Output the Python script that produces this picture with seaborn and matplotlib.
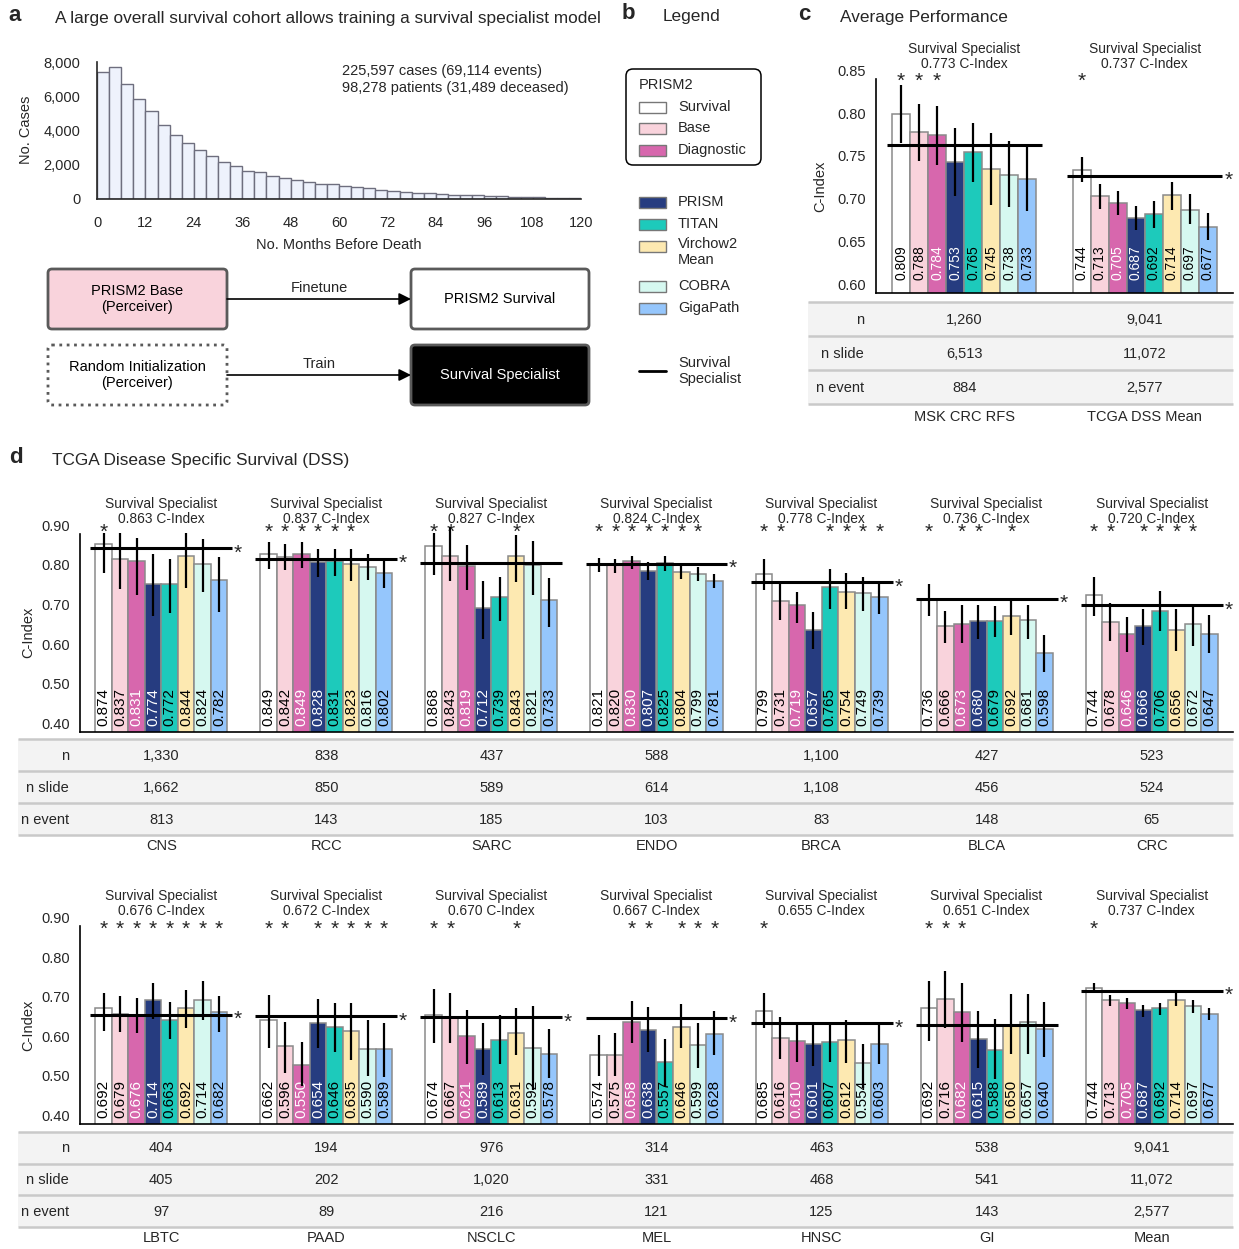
import numpy as np
import pandas as pd
import matplotlib.pyplot as plt
import matplotlib.transforms as mtransforms
from matplotlib.patches import FancyBboxPatch, Rectangle
import seaborn as sns

sns.set_style("white")
plt.rcParams['font.family'] = ['Liberation Sans', 'DejaVu Sans']
plt.rcParams['axes.linewidth'] = 1.2

W, H = 1239, 1249
FS = 10.5

# ---------------- data ----------------
models = ['PRISM2 Survival', 'PRISM2 Base', 'PRISM2 Diagnostic', 'PRISM',
          'TITAN', 'Virchow2 Mean', 'COBRA', 'GigaPath']
legend_labels = ['Survival', 'Base', 'Diagnostic', 'PRISM', 'TITAN',
                 'Virchow2\nMean', 'COBRA', 'GigaPath']
colors = ['#FFFFFF', '#F9D3DC', '#D767AD', '#263C80', '#1DCABB', '#FDE9B1',
          '#D6F8F0', '#95C6FC']
text_colors = ['black', 'black', 'white', 'white', 'black', 'black', 'black', 'black']

# panel a: cases per 3-month bin before death
month_bins = list(range(0, 120, 3))
hist_counts = [7400, 7690, 6740, 5820, 5160, 4320, 3720, 3290, 2840, 2490,
               2140, 1930, 1660, 1580, 1360, 1250, 1130, 970, 860, 860,
               760, 700, 660, 510, 470, 430, 370, 370, 290, 250,
               210, 210, 190, 160, 140, 120, 100, 80, 60, 40]

# panel c: average performance
avg_cohorts = ['MSK CRC RFS', 'TCGA DSS Mean']
avg_cindex = [[0.809, 0.788, 0.784, 0.753, 0.765, 0.745, 0.738, 0.733],
              [0.744, 0.713, 0.705, 0.687, 0.692, 0.714, 0.697, 0.677]]
avg_lo = [[0.775, 0.754, 0.749, 0.713, 0.730, 0.703, 0.700, 0.696],
          [0.730, 0.698, 0.691, 0.673, 0.676, 0.697, 0.680, 0.662]]
avg_hi = [[0.843, 0.821, 0.818, 0.793, 0.799, 0.787, 0.777, 0.771],
          [0.759, 0.727, 0.719, 0.702, 0.707, 0.730, 0.715, 0.693]]
avg_specialist = [0.773, 0.737]
avg_stars = [[0, 1, 2], [0]]
avg_end_star = [False, True]
avg_n = ['1,260', '9,041']
avg_n_slide = ['6,513', '11,072']
avg_n_event = ['884', '2,577']

# panel d, first row
row1_cohorts = ['CNS', 'RCC', 'SARC', 'ENDO', 'BRCA', 'BLCA', 'CRC']
row1_cindex = [[0.874, 0.837, 0.831, 0.774, 0.772, 0.844, 0.824, 0.782],
               [0.849, 0.842, 0.849, 0.828, 0.831, 0.823, 0.816, 0.802],
               [0.868, 0.843, 0.819, 0.712, 0.739, 0.843, 0.821, 0.733],
               [0.821, 0.820, 0.830, 0.807, 0.825, 0.804, 0.799, 0.781],
               [0.799, 0.731, 0.719, 0.657, 0.765, 0.754, 0.749, 0.739],
               [0.736, 0.666, 0.673, 0.680, 0.679, 0.692, 0.681, 0.598],
               [0.744, 0.678, 0.646, 0.666, 0.706, 0.656, 0.672, 0.647]]
row1_lo = [[0.800, 0.760, 0.745, 0.693, 0.700, 0.764, 0.753, 0.703],
           [0.811, 0.808, 0.814, 0.790, 0.793, 0.781, 0.782, 0.764],
           [0.795, 0.781, 0.759, 0.634, 0.680, 0.777, 0.745, 0.665],
           [0.804, 0.802, 0.812, 0.783, 0.806, 0.785, 0.781, 0.762],
           [0.759, 0.682, 0.675, 0.610, 0.709, 0.711, 0.705, 0.697],
           [0.692, 0.625, 0.624, 0.634, 0.639, 0.644, 0.634, 0.551],
           [0.692, 0.628, 0.602, 0.618, 0.655, 0.603, 0.616, 0.600]]
row1_hi = [[0.901, 0.901, 0.890, 0.849, 0.836, 0.901, 0.887, 0.842],
           [0.880, 0.874, 0.878, 0.861, 0.861, 0.862, 0.849, 0.833],
           [0.901, 0.918, 0.871, 0.781, 0.791, 0.897, 0.881, 0.787],
           [0.838, 0.835, 0.844, 0.829, 0.844, 0.821, 0.817, 0.797],
           [0.836, 0.776, 0.753, 0.703, 0.812, 0.800, 0.791, 0.776],
           [0.774, 0.704, 0.720, 0.720, 0.717, 0.734, 0.721, 0.644],
           [0.790, 0.725, 0.690, 0.709, 0.755, 0.709, 0.718, 0.694]]
row1_specialist = [0.863, 0.837, 0.827, 0.824, 0.778, 0.736, 0.720]
row1_stars = [[0], [0, 1, 2, 3, 4, 5], [0, 1, 5], [0, 1, 2, 3, 4, 5, 6],
              [0, 1, 4, 5, 6, 7], [0, 2, 3, 5], [0, 1, 3, 4, 5, 6]]
row1_end_star = [True, True, False, True, True, True, True]
row1_n = ['1,330', '838', '437', '588', '1,100', '427', '523']
row1_n_slide = ['1,662', '850', '589', '614', '1,108', '456', '524']
row1_n_event = ['813', '143', '185', '103', '83', '148', '65']

# panel d, second row
row2_cohorts = ['LBTC', 'PAAD', 'NSCLC', 'MEL', 'HNSC', 'GI', 'Mean']
row2_cindex = [[0.692, 0.679, 0.676, 0.714, 0.663, 0.692, 0.714, 0.682],
               [0.662, 0.596, 0.550, 0.654, 0.646, 0.635, 0.590, 0.589],
               [0.674, 0.667, 0.621, 0.589, 0.613, 0.631, 0.592, 0.578],
               [0.574, 0.575, 0.658, 0.638, 0.557, 0.646, 0.599, 0.628],
               [0.685, 0.616, 0.610, 0.601, 0.607, 0.612, 0.554, 0.603],
               [0.692, 0.716, 0.682, 0.615, 0.588, 0.650, 0.657, 0.640],
               [0.744, 0.713, 0.705, 0.687, 0.692, 0.714, 0.697, 0.677]]
row2_lo = [[0.635, 0.633, 0.631, 0.664, 0.614, 0.642, 0.663, 0.633],
           [0.591, 0.530, 0.496, 0.591, 0.581, 0.562, 0.520, 0.518],
           [0.604, 0.605, 0.552, 0.524, 0.551, 0.573, 0.486, 0.515],
           [0.520, 0.520, 0.604, 0.583, 0.494, 0.591, 0.541, 0.574],
           [0.642, 0.564, 0.557, 0.547, 0.557, 0.553, 0.490, 0.551],
           [0.610, 0.643, 0.608, 0.542, 0.514, 0.577, 0.578, 0.570],
           [0.730, 0.699, 0.690, 0.671, 0.675, 0.698, 0.681, 0.663]]
row2_hi = [[0.730, 0.722, 0.717, 0.755, 0.707, 0.738, 0.761, 0.724],
           [0.727, 0.657, 0.606, 0.716, 0.706, 0.705, 0.663, 0.654],
           [0.741, 0.732, 0.688, 0.656, 0.675, 0.692, 0.699, 0.640],
           [0.625, 0.631, 0.711, 0.696, 0.614, 0.703, 0.656, 0.685],
           [0.730, 0.671, 0.658, 0.652, 0.654, 0.663, 0.602, 0.654],
           [0.761, 0.787, 0.755, 0.686, 0.664, 0.728, 0.728, 0.709],
           [0.757, 0.726, 0.717, 0.701, 0.706, 0.730, 0.713, 0.692]]
row2_specialist = [0.676, 0.672, 0.670, 0.667, 0.655, 0.651, 0.737]
row2_stars = [[0, 1, 2, 3, 4, 5, 6, 7], [0, 1, 3, 4, 5, 6, 7], [0, 1, 5],
              [2, 3, 5, 6, 7], [0], [0, 1, 2], [0]]
row2_end_star = [True, True, True, True, True, False, True]
row2_n = ['404', '194', '976', '314', '463', '538', '9,041']
row2_n_slide = ['405', '202', '1,020', '331', '468', '541', '11,072']
row2_n_event = ['97', '89', '216', '121', '125', '143', '2,577']

table_rows = ['n', 'n slide', 'n event']

# ---------------- figure ----------------
fig = plt.figure(figsize=(W / 100, H / 100), dpi=100)


def px_axes(x0, y0, x1, y1):
    return fig.add_axes([x0 / W, 1 - y1 / H, (x1 - x0) / W, (y1 - y0) / H])


ov = fig.add_axes([0, 0, 1, 1])
ov.set_xlim(0, W)
ov.set_ylim(H, 0)
ov.axis('off')
ov.patch.set_alpha(0)

# panel headers
for letter, lx, ly, title, tx in [('a', 15, 15, 'A large overall survival cohort allows training a survival specialist model', 55),
                                  ('b', 628, 13, 'Legend', 663),
                                  ('c', 804, 14, 'Average Performance', 840),
                                  ('d', 16, 457, 'TCGA Disease Specific Survival (DSS)', 52)]:
    ov.text(lx, ly, letter, fontsize=16, fontweight='bold', ha='center', va='center')
    ov.text(tx, ly + 3, title, fontsize=12.4, ha='left', va='center')

# ---- panel a: histogram ----
ax_h = px_axes(97, 62, 581, 199)
ax_h.patch.set_alpha(0)
hist_df = pd.DataFrame({'month': [b + 1.5 for b in month_bins], 'cases': hist_counts})
sns.histplot(data=hist_df, x='month', weights='cases', binwidth=3, binrange=(0, 120),
             color='#EEF2FC', edgecolor='#6E6E7E', linewidth=1, alpha=1, ax=ax_h)
ax_h.set_xlim(0, 120)
ax_h.set_ylim(0, 8000)
ax_h.set_xticks(range(0, 121, 12))
ax_h.set_yticks(range(0, 8001, 2000))
ax_h.set_yticklabels([f'{v:,}' for v in range(0, 8001, 2000)])
ax_h.tick_params(axis='both', length=4, width=1.2, labelsize=FS, direction='out')
ax_h.tick_params(axis='y', pad=8)
ax_h.tick_params(axis='x', pad=8)
ax_h.set_xlabel('')
ax_h.set_ylabel('')
sns.despine(ax=ax_h)
ov.text(26, 130, 'No. Cases', rotation=90, fontsize=FS, ha='center', va='center')
ov.text(339, 245, 'No. Months Before Death', fontsize=FS, ha='center', va='center')
ov.text(342, 71, '225,597 cases (69,114 events)', fontsize=FS, ha='left', va='center')
ov.text(342, 88, '98,278 patients (31,489 deceased)', fontsize=FS, ha='left', va='center')

# flow diagram
for (x0, y0, x1, y1, fc, ec, ls, label, tc) in [
        (48, 269, 227, 329, '#F9D3DC', '#5A5A5A', '-', 'PRISM2 Base\n(Perceiver)', 'black'),
        (411, 269, 589, 329, 'white', '#5A5A5A', '-', 'PRISM2 Survival', 'black'),
        (48, 345, 227, 405, 'white', '#5A5A5A', ':', 'Random Initialization\n(Perceiver)', 'black'),
        (411, 345, 589, 405, 'black', '#5A5A5A', '-', 'Survival Specialist', 'white')]:
    ov.add_patch(FancyBboxPatch((x0, y0), x1 - x0, y1 - y0, boxstyle='round,pad=0,rounding_size=4',
                                facecolor=fc, edgecolor=ec, linewidth=2, linestyle=ls))
    ov.text((x0 + x1) / 2, (y0 + y1) / 2, label, color=tc, fontsize=FS, ha='center', va='center',
            linespacing=1.15)
for y, label in [(299, 'Finetune'), (375, 'Train')]:
    ov.annotate('', xy=(411, y), xytext=(227, y),
                arrowprops=dict(arrowstyle='-|>', color='black', lw=1.2, mutation_scale=18,
                                shrinkA=0, shrinkB=0))
    ov.text(319, y - 11, label, fontsize=FS, ha='center', va='center')

# ---- panel b: legend ----
ov.add_patch(FancyBboxPatch((626, 69), 135, 96, boxstyle='round,pad=0,rounding_size=7',
                            facecolor='none', edgecolor='black', linewidth=1.1))
ov.text(639, 85, 'PRISM2', fontsize=FS, ha='left', va='center')
legend_y = [107, 128, 150, 202, 224, 246, 286, 308]
for m in range(len(models)):
    y = legend_y[m]
    ov.add_patch(Rectangle((639, y - 5.5), 27, 11, facecolor=colors[m], edgecolor='#777777', lw=1))
    if '\n' in legend_labels[m]:
        ov.text(678, y - 9, legend_labels[m], fontsize=FS, ha='left', va='top', linespacing=1.15)
    else:
        ov.text(678, y, legend_labels[m], fontsize=FS, ha='left', va='center')
ov.plot([639, 666], [371, 371], color='black', lw=2)
ov.text(678, 371, 'Survival\nSpecialist', fontsize=FS, ha='left', va='center', linespacing=1.15)


# ---- bar panels ----
def bar_panel(ax, cohorts, cindex, lo, hi, spec, stars, end_star, ylims, yticks,
              value_size, value_pad, top_px, star_px):
    order, rows = [], []
    for g, name in enumerate(cohorts):
        for m, model in enumerate(models):
            order.append(f'{name}:{m}')
            rows.append((f'{name}:{m}', model, cindex[g][m]))
        if g < len(cohorts) - 1:
            order += [f'{name}:gap0', f'{name}:gap1']
    df = pd.DataFrame(rows, columns=['slot', 'model', 'cindex'])
    sns.barplot(data=df, x='slot', y='cindex', hue='model', order=order, hue_order=models,
                palette=colors, saturation=1, dodge=False, width=1, errorbar=None,
                edgecolor='#8A8A8A', linewidth=1.1, legend=False, ax=ax)
    ax.patch.set_alpha(0)
    ax.set_ylim(*ylims)
    ax.set_xlim(-0.5 - 0.93, 10 * (len(cohorts) - 1) + 7.5 + 0.93)
    ax.set_xticks([])
    ax.set_xlabel('')
    ax.set_ylabel('')
    ax.set_yticks(yticks)
    ax.set_yticklabels([f'{t:.2f}' for t in yticks])
    plt.setp(ax.get_yticklabels(), va='bottom')
    ax.tick_params(axis='y', length=0, pad=7, labelsize=FS)
    sns.despine(ax=ax)
    ax.spines['left'].set_color('black')
    ax.spines['bottom'].set_color('black')

    mix = mtransforms.blended_transform_factory(ax.transData, ov.transData)
    lift = mtransforms.offset_copy(ax.transData, fig=fig, x=0, y=value_pad, units='dots')
    drop = mtransforms.offset_copy(ax.transData, fig=fig, x=0, y=-5, units='dots')
    for g in range(len(cohorts)):
        xs = [10 * g + m for m in range(len(models))]
        for m, x in enumerate(xs):
            ax.text(x, ylims[0], f'{cindex[g][m]:.3f}', transform=lift, rotation=90,
                    ha='center', va='bottom', color=text_colors[m], fontsize=value_size, zorder=5)
        ax.vlines(xs, lo[g], hi[g], colors='black', lw=1.6, zorder=6, clip_on=False)
        ax.hlines(spec[g], 10 * g - 0.8, 10 * g + 7.8, colors='black', lw=2.2, zorder=7, clip_on=False)
        if end_star[g]:
            ax.text(10 * g + 7.9, spec[g], '*', transform=drop, ha='left', va='center',
                    fontsize=15, clip_on=False)
        for m in stars[g]:
            ov.text(10 * g + m, star_px + 4, '*', transform=mix, ha='center', va='center', fontsize=15)
        ov.text(10 * g + 3.5, top_px - 30, 'Survival Specialist', transform=mix,
                ha='center', va='center', fontsize=9.9)
        ov.text(10 * g + 3.5, top_px - 15, f'{spec[g]:.3f} C-Index', transform=mix,
                ha='center', va='center', fontsize=9.9)


def draw_table(ax, lines_y, values, cohorts, x_left, label_right, cat_y):
    mix = mtransforms.blended_transform_factory(ax.transData, ov.transData)
    for r in range(3):
        ov.add_patch(Rectangle((x_left, lines_y[r]), 1233 - x_left, lines_y[r + 1] - lines_y[r],
                               facecolor='#F3F3F3', edgecolor='none'))
    ov.hlines(lines_y, x_left, 1233, colors='#C9C9C9', lw=1.8)
    for r, row_vals in enumerate(values):
        yc = (lines_y[r] + lines_y[r + 1]) / 2 + 1
        ov.text(label_right, yc, table_rows[r], ha='right', va='center', fontsize=FS)
        for g, v in enumerate(row_vals):
            ov.text(10 * g + 3.5, yc, v, transform=mix, ha='center', va='center', fontsize=FS)
    for g, name in enumerate(cohorts):
        ov.text(10 * g + 3.5, cat_y, name, transform=mix, ha='center', va='center', fontsize=FS)


# panel c
ax_c = px_axes(876, 79, 1233, 292.7)
bar_panel(ax_c, avg_cohorts, avg_cindex, avg_lo, avg_hi, avg_specialist, avg_stars, avg_end_star,
          (0.60, 0.85), [0.60, 0.65, 0.70, 0.75, 0.80, 0.85], 10, 13, 79, 77.7)
ax_c.set_xlim(-0.5 - 0.89, 17.5 + 0.89)
ov.text(820, 186, 'C-Index', rotation=90, fontsize=FS, ha='center', va='center')
draw_table(ax_c, [302, 335.5, 369.5, 404], [avg_n, avg_n_slide, avg_n_event], avg_cohorts,
           808, 864, 417)

# panel d rows
yt = [0.40, 0.50, 0.60, 0.70, 0.80, 0.90]
ax_r1 = px_axes(80, 533.7, 1233, 731.7)
bar_panel(ax_r1, row1_cohorts, row1_cindex, row1_lo, row1_hi, row1_specialist, row1_stars,
          row1_end_star, (0.40, 0.90), yt, 11, 6, 533.7, 528.5)
ov.text(28, 632, 'C-Index', rotation=90, fontsize=FS, ha='center', va='center')
draw_table(ax_r1, [739, 771, 803, 835], [row1_n, row1_n_slide, row1_n_event], row1_cohorts,
           18, 69, 846)

ax_r2 = px_axes(80, 926, 1233, 1124)
bar_panel(ax_r2, row2_cohorts, row2_cindex, row2_lo, row2_hi, row2_specialist, row2_stars,
          row2_end_star, (0.40, 0.90), yt, 11, 6, 926, 925)
ov.text(28, 1025, 'C-Index', rotation=90, fontsize=FS, ha='center', va='center')
draw_table(ax_r2, [1131.5, 1163.5, 1195, 1227], [row2_n, row2_n_slide, row2_n_event], row2_cohorts,
           18, 69, 1238)

fig.savefig('out.png', dpi=100)
